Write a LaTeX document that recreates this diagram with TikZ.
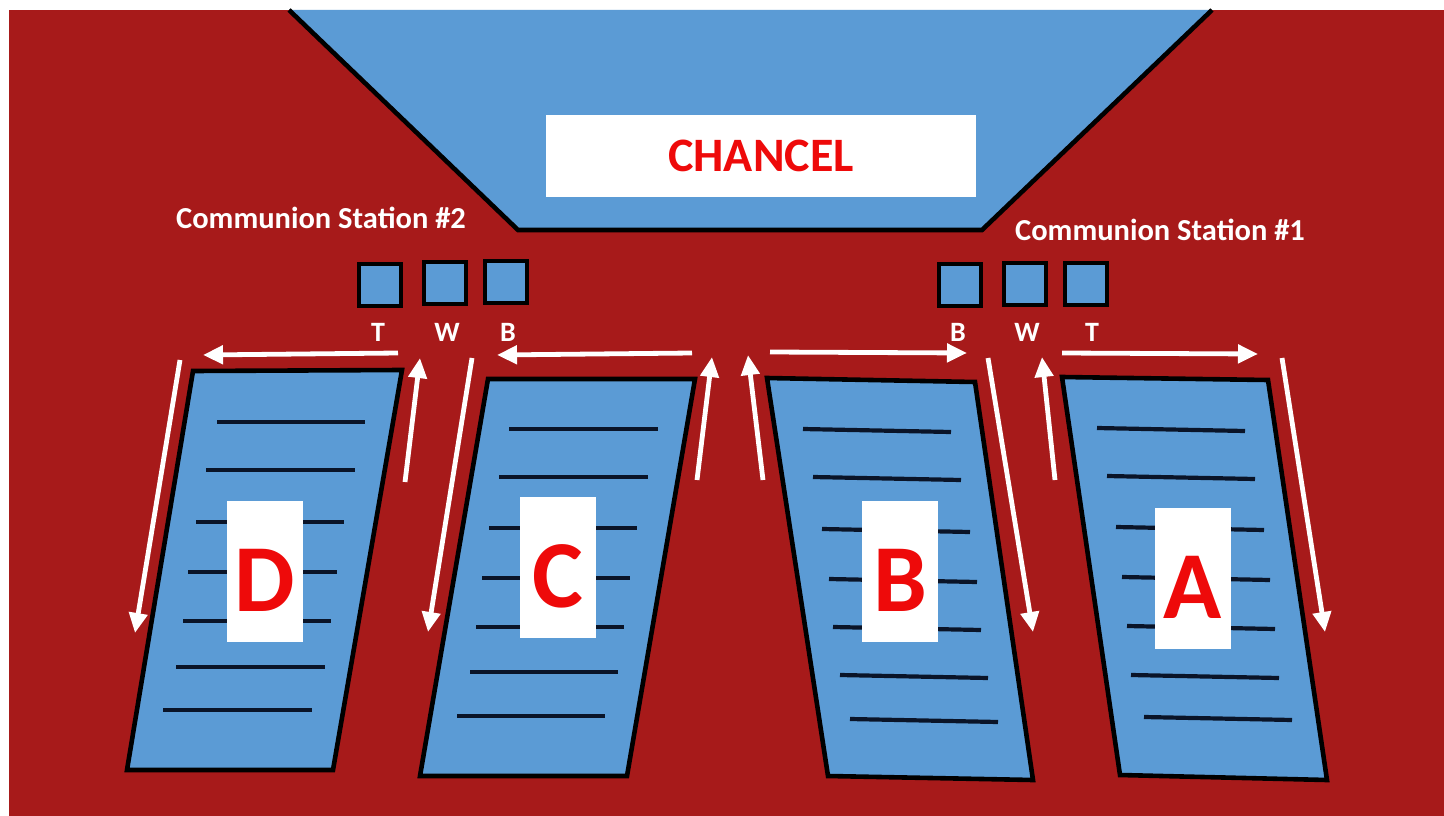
\documentclass[tikz,border=0pt]{standalone}
\usepackage{fontspec}
\setmainfont{Carlito}
\usetikzlibrary{arrows.meta}
\definecolor{floor}{HTML}{A71A1A}
\definecolor{pewblue}{HTML}{5B9BD5}
\definecolor{signred}{HTML}{EE0A0A}
\definecolor{rowline}{HTML}{0A1428}
\tikzset{
  >={Triangle[length=20pt,width=18pt]},
  pew/.style={draw=black,fill=pewblue,line width=4.6pt,line join=miter},
  row/.style={draw=rowline,line width=4.2pt},
  walk/.style={->,draw=white,line width=4.8pt},
  station/.style={draw=black,fill=pewblue,line width=3.8pt,minimum size=42pt,inner sep=0pt},
  tag/.style={text=white,font=\bfseries\fontsize{28}{28}\selectfont},
  stationname/.style={text=white,font=\bfseries\fontsize{30.5}{30.5}\selectfont},
  section/.style={fill=white,text=signred,minimum width=76pt,minimum height=141pt,inner sep=0pt,
    text height=80pt,text depth=0pt,font=\bfseries\fontsize{96}{96}\selectfont},
}

\begin{document}
\begin{tikzpicture}[x=1pt,y=-1pt]
  \useasboundingbox (0,0) rectangle (1444,816);
  \fill[white] (0,0) rectangle (1444,816);
  \fill[floor] (9,10) rectangle (1444,816);

  % chancel
  \fill[pewblue] (289,10) -- (518,230) -- (982,230) -- (1212,10) -- cycle;
  \draw[black,line width=4.6pt,line join=miter] (289,10) -- (518,230) -- (982,230) -- (1212,10);
  \node[fill=white,text=signred,minimum width=430pt,minimum height=82pt,inner sep=0pt,
    font=\bfseries\fontsize{48}{48}\selectfont] (chancel) at (761,156) {CHANCEL};

  \node[stationname] (cs2) at (321,218) {Communion Station \#2};
  \node[stationname] (cs1) at (1160,230) {Communion Station \#1};

  \node[station] (t2) at (380,285) {};
  \node[station] (w2) at (445,283) {};
  \node[station] (b2) at (506,282) {};
  \node[station] (b1) at (960,285) {};
  \node[station] (w1) at (1025,284) {};
  \node[station] (t1) at (1086,284) {};

  \node[tag] (t2l) at (378,332) {T};
  \node[tag] (w2l) at (447,332) {W};
  \node[tag] (b2l) at (508,332) {B};
  \node[tag] (b1l) at (958,332) {B};
  \node[tag] (w1l) at (1027,332) {W};
  \node[tag] (t1l) at (1092,332) {T};

  % pews
  \draw[pew] (193,371) -- (402,370) -- (333,770) -- (127,770) -- cycle;
  \draw[pew] (488,379) -- (695,379) -- (627,776) -- (420,776) -- cycle;
  \draw[pew] (767,378) -- (975,382) -- (1033,780) -- (828,776) -- cycle;
  \draw[pew] (1062,377) -- (1268,380) -- (1327,780) -- (1120,775) -- cycle;

  \foreach \xa/\xb/\y in {217/365/422,206/355/470,196/344/522,188/337/572,183/331/621,176/325/667,163/312/710,
      509/658/429,499/648/477,489/637/528,482/630/578,476/624/627,470/618/672,457/605/716}
    \draw[row] (\xa,\y) -- (\xb,\y);
  \foreach \xa/\xb/\y in {803/951/429,813/961/477,822/970/529,829/977/579,833/981/627,840/988/675,850/998/719,
      1097/1245/428,1107/1255/476,1116/1264/527,1122/1270/577,1127/1275/626,1131/1279/675,1144/1292/717}
    \draw[row] (\xa,\y) -- (\xb,\y+3);

  \node[section] (secd) at (265,571) {D};
  \node[section] (secc) at (558,567) {C};
  \node[section] (secb) at (900,571) {B};
  \node[section] (seca) at (1193,578) {A};

  % walking directions
  \foreach \xa/\ya/\xb/\yb in {398/353/203/355, 405/482/420/358, 180/360/135/633,
      472/358/428/632, 697/480/712/357, 692/353/497/355,
      763/480/748/355, 770/352/967/353, 988/358/1033/632,
      1055/480/1042/357, 1062/353/1258/354, 1282/358/1325/632}
    \draw[walk] (\xa,\ya) -- (\xb,\yb);
\end{tikzpicture}
\end{document}
